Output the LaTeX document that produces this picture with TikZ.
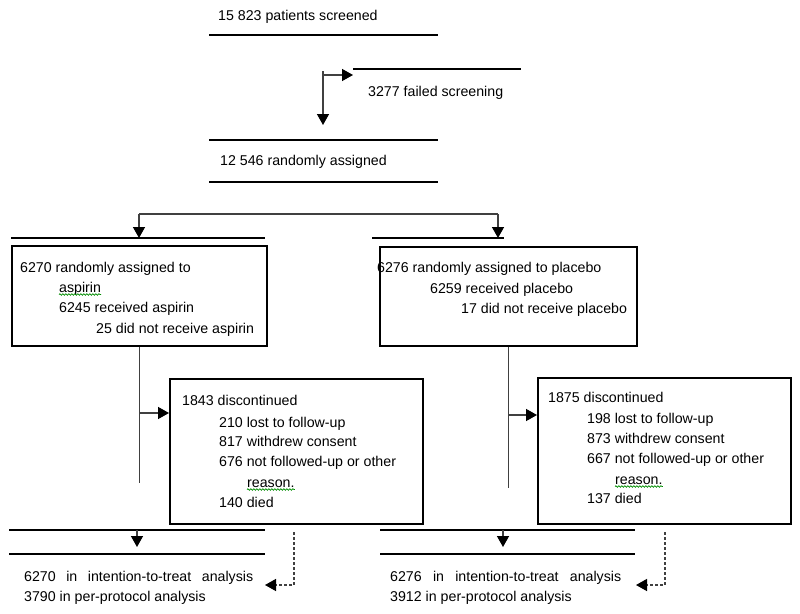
\documentclass[tikz,border=0pt]{standalone}
\usepackage{fontspec}
\setmainfont{Liberation Sans}
\usetikzlibrary{arrows.meta,decorations.pathmorphing}
\begin{document}
\begin{tikzpicture}
[x=1pt,y=-1pt,
  boxdecorate/.style={shape=rectangle,draw,line width=1.6pt,inner sep=0pt,anchor=north west},%
  textdecorate/.style={anchor=base west,inner sep=0pt,font=\fontsize{14.2}{17}\selectfont},%
  ruledecorate/.style={-,line width=1.6pt},%
  linedecorate/.style={-,line width=1.4pt,draw=black!75},%
  arrowdecorate/.style={linedecorate,-{Triangle[length=11pt,width=12pt,color=black]}},%
  dashdecorate/.style={arrowdecorate,dash pattern=on 3pt off 2pt},%
  squiggledecorate/.style={draw=green!55!black,line width=0.7pt,decorate,
    decoration={snake,amplitude=0.8pt,segment length=3pt}}]
\useasboundingbox (0,0) rectangle (800,613);
%% texts
\foreach \nodename/\x/\y/\nodetext in {
  screened/218/20/15 823 patients screened,
  failed/368/96/3277 failed screening,
  assigned/220/165/12 546 randomly assigned,
  asptitle/20/272/6270 randomly assigned to,
  aspirin/59/292/aspirin,
  asprec/59/312/6245 received aspirin,
  aspnot/96/333/25 did not receive aspirin,
  platitle/377/272/6276 randomly assigned to placebo,
  plarec/430/293/6259 received placebo,
  planot/461/313/17 did not receive placebo,
  discasptitle/182/405/1843 discontinued,
  asplost/219/427/210 lost to follow-up,
  aspwith/219/446/817 withdrew consent,
  aspother/219/466/676 not followed-up or other,
  reasona/247/487/reason.,
  aspdied/219/507/140 died,
  discplatitle/548/402/1875 discontinued,
  plalost/587/423/198 lost to follow-up,
  plawith/587/443/873 withdrew consent,
  plaother/587/463/667 not followed-up or other,
  reasonp/615/484/reason.,
  pladied/587/503/137 died,
  ppasp/24/601/3790 in per-protocol analysis,
  pppla/390/601/3912 in per-protocol analysis}
{
  \node (\nodename) at (\x,\y) [textdecorate] {\nodetext};
}
\node (ittasp) at (24,581) [textdecorate] {\makebox[229pt][s]{6270 in intention-to-treat analysis}};
\node (ittpla) at (390,581) [textdecorate] {\makebox[231pt][s]{6276 in intention-to-treat analysis}};
%% spelling marks
\foreach \nodename in {aspirin, reasona, reasonp}
{
  \draw[squiggledecorate] ([yshift=-2.5pt]\nodename.base west) -- ([yshift=-2.5pt]\nodename.base east);
}
%% boxes
\foreach \nodename/\x/\y/\w/\h in {
  aspbox/11/245/255/100, plabox/379/246/257/99,
  discasp/169/378/253/145, discpla/537/377/253/146}
{
  \node (\nodename) at (\x,\y) [boxdecorate,minimum width=\w pt,minimum height=\h pt] {};
}
%% rules
\foreach \xa/\xb/\y in {
  209/438/35, 353/521/69, 209/438/140, 209/438/182, 11/265/238, 372/504/238,
  9/265/530, 9/265/554, 380/635/530, 380/635/554}
{
  \draw[ruledecorate] (\xa,\y) -- (\xb,\y);
}
%% connector ends
\coordinate (scrtop) at (323,71);
\coordinate (scrmid) at (323,75);
\coordinate (scrend) at (323,125);
\coordinate (failin) at (353,75);
\coordinate (brleft) at (139,214);
\coordinate (brright) at (498,214);
\coordinate (aspin) at (139,238);
\coordinate (plain) at (498,238);
\coordinate (aspend) at (aspbox.south |- 0,483);
\coordinate (plaend) at (plabox.south |- 0,488);
\coordinate (aspmid) at (aspbox.south |- 0,413);
\coordinate (plamid) at (plabox.south |- 0,415);
\coordinate (ittasptop) at (137,530);
\coordinate (ittaspin) at (137,547);
\coordinate (ittplatop) at (503,530);
\coordinate (ittplain) at (503,547);
\coordinate (dashasp) at (294,532);
\coordinate (dashaspin) at (265,585);
\coordinate (dashpla) at (665,532);
\coordinate (dashplain) at (636,585);
%% connectors
\draw[linedecorate] (brleft) -- (brright);
\draw[linedecorate] (aspbox.south) -- (aspend);
\draw[linedecorate] (plabox.south) -- (plaend);
\path
\foreach \startnode/\endnode in {
  scrtop/scrend, scrmid/failin, brleft/aspin, brright/plain,
  ittasptop/ittaspin, ittplatop/ittplain} {
  (\startnode) edge[arrowdecorate] (\endnode)
};
\draw[arrowdecorate] (aspmid) -- (aspmid -| discasp.west);
\draw[arrowdecorate] (plamid) -- (plamid -| discpla.west);
\draw[dashdecorate] (dashasp) |- (dashaspin);
\draw[dashdecorate] (dashpla) |- (dashplain);
\end{tikzpicture}
\end{document}
